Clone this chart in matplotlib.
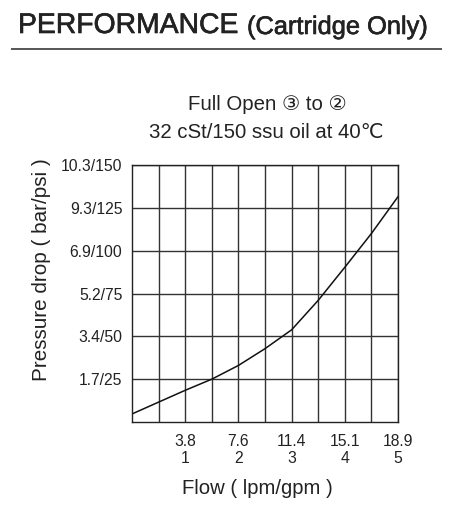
import matplotlib
matplotlib.use("Agg")
import matplotlib.pyplot as plt
import matplotlib.patheffects as pe
import numpy as np

# ---- data ----
flow_gpm = [0.0, 0.5, 1.0, 1.5, 2.0, 2.5, 3.0, 3.5, 4.0, 4.5, 5.0]
pressure_psi = [4.7, 11.6, 18.5, 25.0, 33.0, 42.8, 53.8, 71.0, 90.3, 110.0, 131.5]

xtick_gpm = [1, 2, 3, 4, 5]
xtick_lpm = ["3.8", "7.6", "11.4", "15.1", "18.9"]
ytick_psi = [25, 50, 75, 100, 125, 150]
ytick_labels = ["1.7/25", "3.4/50", "5.2/75", "6.9/100", "9.3/125", "10.3/150"]

FONT = ["Liberation Sans", "DejaVu Sans"]
plt.rcParams["font.family"] = FONT
TXT = "#222222"

fig = plt.figure(figsize=(4.54, 5.12), dpi=100)
fig.patch.set_facecolor("white")

# Title and rule
heavy = [pe.withStroke(linewidth=0.45, foreground=TXT)]
fig.text(18 / 454, 1 - 26 / 512, "PERFORMANCE", fontsize=20.4, color=TXT,
         ha="left", va="center", path_effects=heavy)
fig.text(247 / 454, 1 - 27 / 512, "(Cartridge Only)", fontsize=18.3, color=TXT,
         ha="left", va="center", path_effects=heavy)
fig.add_artist(plt.Line2D([12 / 454, 441 / 454], [1 - 49 / 512, 1 - 49 / 512],
                          color="#555555", lw=1.4, transform=fig.transFigure))

# Subtitles
fig.text(267 / 454, 1 - 104 / 512, "Full Open ③ to ②", fontsize=14.7, color=TXT,
         ha="center", va="center")
fig.text(266 / 454, 1 - 132 / 512, "32 cSt/150 ssu oil at 40℃", fontsize=14.7,
         color=TXT, ha="center", va="center")

ax = fig.add_axes([132 / 454, 90 / 512, 266 / 454, 257 / 512])
ax.plot(flow_gpm, pressure_psi, color="#111111", lw=1.1)

ax.set_xlim(0, 5)
ax.set_ylim(0, 150)
ax.set_xticks(xtick_gpm)
ax.set_xticklabels([f"{l}\n{g}" for l, g in zip(xtick_lpm, xtick_gpm)],
                   fontsize=11.3, color=TXT, linespacing=1.15)
ax.set_xticks(np.arange(0.5, 5, 0.5), minor=True)
ax.set_yticks(ytick_psi)
ax.set_yticklabels(ytick_labels, fontsize=11.3, color=TXT)

ax.tick_params(axis="both", which="both", length=0)
ax.tick_params(axis="x", pad=9)
ax.tick_params(axis="y", pad=7)
ax.grid(True, which="both", color="#333333", lw=1.0)
ax.set_axisbelow(True)
for s in ax.spines.values():
    s.set_color("#222222")
    s.set_linewidth(1.0)

ax.set_xlabel("Flow ( lpm/gpm )", fontsize=14.6, color=TXT, va="center")
ax.xaxis.set_label_coords((257 - 132) / 266, (422 - 488) / 257)
ax.set_ylabel("Pressure drop ( bar/psi )", fontsize=14.9, color=TXT, va="center")
ax.yaxis.set_label_coords((41 - 132) / 266, (422 - 270) / 257)

fig.savefig("out.png", dpi=100, facecolor="white")
